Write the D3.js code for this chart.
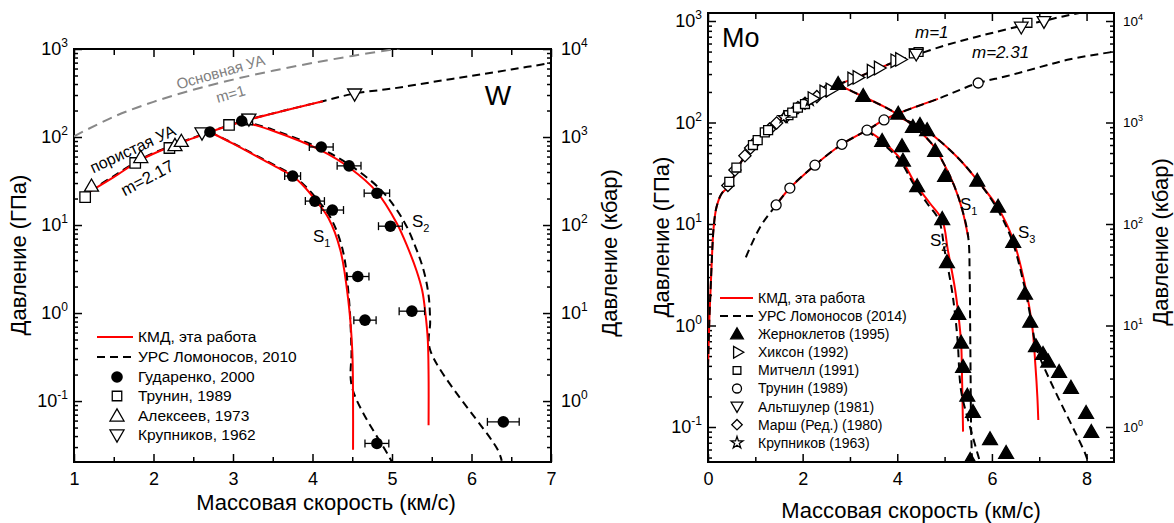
<!DOCTYPE html>
<html>
<head>
<meta charset="utf-8">
<title>W Mo</title>
<script src="https://cdn.jsdelivr.net/npm/d3@7"></script>
<style>
  body { margin: 0; background: #fff; }
  svg { font-family: "Liberation Sans", Arial, sans-serif; }
  .axis .domain { display: none; }
  .axis line { stroke: #000; stroke-width: 1.5px; }
  .frame { fill: none; stroke: #000; stroke-width: 2px; }
  .kmd { fill: none; stroke: #f00; stroke-width: 2px; }
  .urs { fill: none; stroke: #000; stroke-width: 2px; stroke-dasharray: 8,5; }
  .ua { fill: none; stroke: #888; stroke-width: 2px; stroke-dasharray: 10,6; }
</style>
</head>
<body>
<svg id="chart" width="1174" height="523"></svg>
<script>
// ---------- W : [u км/с, P ГПа] ----------
var wUAmain   = [[1.0,102],[1.5,170],[2.0,251],[2.5,344],[3.0,449],[3.5,565],[4.0,694],[4.5,835],[5.0,987],[5.1,1020]];
var wPorKMD   = [[1.19,23.7],[1.5,35],[1.84,55],[2.2,77],[2.5,97],[2.71,114],[3.12,150],[3.6,195],[4.13,255]];
var wPorURS   = [[1.2,24.5],[1.5,36],[1.84,56],[2.2,78],[2.5,98],[2.71,115],[3.12,151],[3.6,195],[4.13,255],[4.53,312],[5.0,355],[5.5,420],[6.0,495],[6.5,585],[7.0,693]];
var wS1KMD    = [[2.71,114],[3.0,84],[3.38,55],[3.6,43],[3.75,36],[3.9,27],[4.03,19.5],[4.2,12],[4.35,5.2],[4.45,1.4],[4.5,0.38],[4.51,0.1],[4.51,0.028]];
var wS1URS    = [[2.71,114],[3.0,85],[3.38,56],[3.6,44],[3.75,37],[3.92,27],[4.05,20],[4.23,12],[4.38,5.2],[4.46,1.4],[4.49,0.38],[4.5,0.14],[4.95,0.0245],[5.0,0.0203]];
var wS2KMD    = [[3.12,150],[3.5,118],[4.1,71],[4.47,44.5],[4.81,23.7],[5.06,10.5],[5.2,5.5],[5.31,3.0],[5.38,1.8],[5.42,1.0],[5.45,0.5],[5.46,0.2],[5.46,0.053]];
var wS2URS    = [[3.12,153],[3.5,121],[4.1,74],[4.5,46],[4.88,24],[5.15,11],[5.3,5.5],[5.4,3.0],[5.46,1.6],[5.48,0.8],[5.48,0.38],[6.33,0.028],[6.38,0.021]];
// [u, P, погрешность u]
var wGudarenko = [[2.71,114,0],[3.11,152,0],[4.11,77,0.15],[4.46,47,0.15],[4.81,23,0.16],[4.98,9.7,0.15],[3.75,36,0.1],[4.03,18.7,0.12],[4.25,14.8,0.14],[4.57,2.6,0.14],[4.66,0.83,0.14],[5.25,1.05,0.16],[6.4,0.058,0.2],[4.81,0.033,0.15]];
var wTrunin    = [[1.14,20.8],[1.77,50.7],[2.2,75],[2.95,137],[3.18,158]];
var wAlekseev  = [[1.22,27],[1.84,57],[2.27,78],[2.35,87]];
var wKrupnikov = [[2.61,114],[3.2,164],[4.53,316]];
var wLegend = ["КМД, эта работа","УРС Ломоносов, 2010","Гударенко, 2000","Трунин, 1989","Алексеев, 1973","Крупников, 1962"];

// ---------- Mo ----------
var moHugKMD = [[0.0,0.39],[0.03,1.2],[0.06,2.6],[0.09,5.5],[0.12,9.3],[0.18,14.7],[0.29,20],[0.46,24],[0.6,34],[0.8,48],[1.0,63],[1.3,88],[1.6,113],[2.0,153],[2.4,195],[2.75,236],[3.15,278],[3.6,340],[4.0,405]];
var moHugURS = [[0.0,0.39],[0.03,1.2],[0.06,2.6],[0.09,5.5],[0.12,9.3],[0.18,14.7],[0.29,20],[0.46,24],[0.6,34],[0.8,48],[1.0,63],[1.3,88],[1.6,113],[2.0,153],[2.4,195],[2.75,236],[3.15,278],[3.6,340],[4.0,405],[4.4,465],[5.0,573],[5.5,665],[6.0,762],[6.66,905],[7.08,1000],[7.5,1110],[7.9,1215]];
var moPorKMD = [[1.44,15.4],[1.73,22.6],[2.26,38],[2.83,61],[3.36,84],[3.72,106],[4.0,122],[4.86,171]];
var moPorURS = [[0.8,4.7],[1.1,9.3],[1.44,15.4],[1.73,22.6],[2.26,38],[2.83,61],[3.36,84],[3.72,106],[4.0,122],[4.86,171],[5.71,245],[6.3,285],[7.0,350],[7.65,420],[8.6,500]];
var moS1KMD = [[2.75,236],[3.28,180],[3.7,145],[4.02,119],[4.4,88],[4.75,60],[5.0,38],[5.2,24],[5.37,14],[5.5,7.4]];
var moS1URS = [[2.75,236],[3.28,180],[3.7,145],[4.02,119],[4.4,88],[4.75,60],[5.0,38],[5.2,24],[5.37,14],[5.5,7.4],[5.53,3],[5.54,1],[5.55,0.3],[5.56,0.1],[5.58,0.045]];
var moS2KMD = [[3.36,84],[3.68,66],[4.1,42],[4.38,25],[4.69,16],[4.95,10.9],[5.07,5.5],[5.22,2.3],[5.29,1.3],[5.35,0.66],[5.37,0.29],[5.39,0.09]];
var moS2URS = [[3.36,84],[3.66,64],[4.06,42],[4.34,25],[4.63,16],[4.88,10.9],[5.0,5.5],[5.15,2.3],[5.22,1.3],[5.28,0.66],[5.32,0.3],[5.37,0.2],[5.75,0.045]];
var moS3KMD = [[3.9,117],[4.3,100],[4.65,81],[5.26,46],[5.69,27],[6.13,14.4],[6.45,7],[6.7,2.5],[6.85,1.0],[6.92,0.4],[6.96,0.2],[6.98,0.117]];
var moS3URS = [[3.9,117],[4.3,100],[4.65,81],[5.26,46],[5.69,27],[6.1,14.4],[6.42,7],[6.68,2.5],[6.85,1.0],[6.95,0.58],[7.97,0.055],[8.02,0.047]];
var moZhern = [[2.75,234],[3.28,178],[4.02,119],[4.33,88],[4.48,92],[4.63,82],[3.68,64],[4.1,57],[4.12,41],[4.8,51],[5.01,29],[4.42,23],[5.69,26],[6.13,14.4],[4.95,10.9],[6.45,6.5],[5.05,4.1],[5.29,1.27],[5.35,0.66],[5.39,0.38],[5.48,0.198],[5.6,0.137],[5.96,0.074],[6.3,0.054],[5.54,0.046],[6.7,2.0],[6.81,1.06],[6.93,0.61],[7.08,0.51],[7.19,0.43],[7.42,0.34],[7.67,0.237],[7.99,0.134],[8.1,0.087]];
var moHixson   = [[2.2,172],[2.45,200],[2.58,209],[3.04,268],[3.15,278],[3.45,320],[3.6,344],[3.95,405],[4.05,418]];
var moMitchell = [[0.45,26],[0.6,36],[0.95,60],[1.05,67],[1.2,80],[1.27,84],[1.7,118],[1.78,125],[1.9,140],[2.05,152],[4.35,480],[4.45,495],[6.75,960]];
var moTrunin   = [[1.44,15.4],[1.73,22.6],[2.26,38],[2.83,61],[3.36,84],[3.72,106],[5.71,245]];
var moAltshuler = [[4.4,482],[6.62,890],[7.1,1010]];
var moMarsh    = [[0.42,24],[0.57,34],[0.78,47],[0.9,56],[1.0,64],[1.3,86],[1.45,99],[1.65,114],[1.9,140],[2.05,155],[2.3,180],[2.5,205]];
var moKrupnikov = [[1.6,112],[2.15,165]];
var moLegend = ["КМД, эта работа","УРС Ломоносов (2014)","Жерноклетов (1995)","Хиксон (1992)","Митчелл (1991)","Трунин (1989)","Альтшулер (1981)","Марш (Ред.) (1980)","Крупников (1963)"];

var svg = d3.select("#chart");

function logTicks(d0, d1) {
  var maj = [], min = [];
  for (var e = Math.floor(Math.log10(d0)); e <= Math.ceil(Math.log10(d1)); e++) {
    for (var k = 1; k <= 9; k++) {
      var v = k * Math.pow(10, e);
      if (v >= d0 * 0.999 && v <= d1 * 1.001) (k == 1 ? maj : min).push(v);
    }
  }
  return {maj: maj, min: min};
}

function supLabels(g, fs, sfs, up) {
  g.selectAll(".tick text").each(function(d) {
    var t = d3.select(this), e = Math.round(Math.log10(d));
    t.text(null).attr("font-size", fs).attr("fill", "#000");
    t.append("tspan").text("10");
    t.append("tspan").attr("font-size", sfs).attr("dy", -up).text(e);
  });
}

function panel(o) {
  var x = d3.scaleLinear().domain(o.xd).range([o.left, o.right]);
  var y = d3.scaleLog().domain(o.yd).range([o.bottom, o.top]);
  var yk = d3.scaleLog().domain([o.yd[0] * 10, o.yd[1] * 10]).range([o.bottom, o.top]);
  var lt = logTicks(o.yd[0], o.yd[1]), ltk = logTicks(o.yd[0] * 10, o.yd[1] * 10);

  var g = svg.append("g");
  // x axes
  g.append("g").attr("class", "axis").attr("transform", "translate(0," + o.bottom + ")")
    .call(d3.axisBottom(x).tickValues(o.xMaj).tickSize(-8).tickSizeOuter(0).tickPadding(10).tickFormat(d3.format("d")))
    .selectAll("text").attr("font-size", 18).attr("fill", "#000");
  g.append("g").attr("class", "axis").attr("transform", "translate(0," + o.bottom + ")")
    .call(d3.axisBottom(x).tickValues(o.xMin).tickSize(-5).tickSizeOuter(0).tickFormat(""));
  g.append("g").attr("class", "axis").attr("transform", "translate(0," + o.top + ")")
    .call(d3.axisTop(x).tickValues(o.xMaj).tickSize(-8).tickSizeOuter(0).tickFormat(""));
  g.append("g").attr("class", "axis").attr("transform", "translate(0," + o.top + ")")
    .call(d3.axisTop(x).tickValues(o.xMin).tickSize(-6).tickSizeOuter(0).tickFormat(""));
  // left log axis (ГПа)
  var la = g.append("g").attr("class", "axis").attr("transform", "translate(" + o.left + ",0)")
    .call(d3.axisLeft(y).tickValues(lt.maj).tickSize(-8).tickSizeOuter(0).tickPadding(6));
  supLabels(la, 18, 12, 8);
  g.append("g").attr("class", "axis").attr("transform", "translate(" + o.left + ",0)")
    .call(d3.axisLeft(y).tickValues(lt.min).tickSize(-4).tickSizeOuter(0).tickFormat(""));
  // right log axis (кбар)
  var ra = g.append("g").attr("class", "axis").attr("transform", "translate(" + o.right + ",0)")
    .call(d3.axisRight(yk).tickValues(ltk.maj).tickSize(-8).tickSizeOuter(0).tickPadding(o.rPad));
  supLabels(ra, o.rFs, o.rSfs, o.rUp);
  g.append("g").attr("class", "axis").attr("transform", "translate(" + o.right + ",0)")
    .call(d3.axisRight(yk).tickValues(ltk.min).tickSize(-4).tickSizeOuter(0).tickFormat(""));

  g.append("rect").attr("class", "frame")
    .attr("x", o.left).attr("y", o.top).attr("width", o.right - o.left).attr("height", o.bottom - o.top);

  var id = "clip" + o.left;
  svg.append("clipPath").attr("id", id).append("rect")
    .attr("x", o.left).attr("y", o.top).attr("width", o.right - o.left).attr("height", o.bottom - o.top);
  var plot = svg.append("g").attr("clip-path", "url(#" + id + ")");
  return {x: x, y: y, plot: plot};
}

function curve(p, data, cls) {
  var line = d3.line().x(function(d) { return p.x(d[0]); }).y(function(d) { return p.y(d[1]); })
    .curve(d3.curveCatmullRom.alpha(0.5));
  p.plot.append("path").datum(data).attr("class", cls).attr("d", line);
}

function symPath(type, size, rot) {
  return {d: d3.symbol().type(type).size(size)(), rot: rot || 0};
}

function marks(sel, data, sp, fill, sx, sy) {
  sel.selectAll(null).data(data).enter().append("path")
    .attr("d", sp.d)
    .attr("transform", function(d) { return "translate(" + sx(d) + "," + sy(d) + ") rotate(" + sp.rot + ")"; })
    .attr("fill", fill).attr("stroke", "#000").attr("stroke-width", 1.3);
}

function points(p, data, sp, fill) {
  marks(p.plot, data, sp, fill, function(d) { return p.x(d[0]); }, function(d) { return p.y(d[1]); });
}

function label(txt, x, y, fs, rot, opts) {
  opts = opts || {};
  var t = svg.append("text").attr("transform", "translate(" + x + "," + y + ") rotate(" + (rot || 0) + ")")
    .attr("font-size", fs).attr("fill", opts.fill || "#000")
    .attr("text-anchor", opts.anchor || "middle").text(txt);
  if (opts.italic) t.attr("font-style", "italic");
  return t;
}

function sLabel(x, y, sub) {
  var t = svg.append("text").attr("x", x).attr("y", y).attr("font-size", 17);
  t.append("tspan").text("S");
  t.append("tspan").attr("font-size", 11).attr("dy", 5).text(sub);
}

// ================= W =================
var pw = panel({left: 74, right: 551, top: 49, bottom: 462, xd: [1, 7], yd: [0.0203, 1000],
  xMaj: [1, 2, 3, 4, 5, 6, 7], xMin: [1.5, 2.5, 3.5, 4.5, 5.5, 6.5], rPad: 10, rFs: 18, rSfs: 12, rUp: 8});

curve(pw, wUAmain, "ua");
curve(pw, wPorURS, "urs");
curve(pw, wS1URS, "urs");
curve(pw, wS2URS, "urs");
curve(pw, wPorKMD, "kmd");
curve(pw, wS1KMD, "kmd");
curve(pw, wS2KMD, "kmd");

var triUp = symPath(d3.symbolTriangle, 85, 0), triDn = symPath(d3.symbolTriangle, 85, 180);
var sq = symPath(d3.symbolSquare, 110, 0);
points(pw, wTrunin, sq, "#fff");
points(pw, wAlekseev, triUp, "#fff");
points(pw, wKrupnikov, triDn, "#fff");

var eb = pw.plot.append("g").attr("stroke", "#000").attr("stroke-width", 1.3);
wGudarenko.filter(function(d) { return d[2] > 0; }).forEach(function(d) {
  var x0 = pw.x(d[0] - d[2]), x1 = pw.x(d[0] + d[2]), yy = pw.y(d[1]);
  eb.append("line").attr("x1", x0).attr("x2", x1).attr("y1", yy).attr("y2", yy);
  eb.append("line").attr("x1", x0).attr("x2", x0).attr("y1", yy - 4).attr("y2", yy + 4);
  eb.append("line").attr("x1", x1).attr("x2", x1).attr("y1", yy - 4).attr("y2", yy + 4);
});
pw.plot.selectAll(null).data(wGudarenko).enter().append("circle")
  .attr("cx", function(d) { return pw.x(d[0]); }).attr("cy", function(d) { return pw.y(d[1]); })
  .attr("r", 5.8).attr("fill", "#000");

// W labels
label("Основная УА", 222, 77, 15, -16, {fill: "#808080"});
label("m=1", 232, 99, 15, -16, {fill: "#808080"});
label("пористая УА", 135, 154, 16, -25);
label("m=2.17", 150, 183, 17, -28);
label("W", 498, 105, 28);
sLabel(313, 242, "1");
sLabel(412, 227, "2");

// W legend
var lw = svg.append("g");
var lwy = [337, 357, 377, 396, 416, 435];
lw.append("line").attr("x1", 97).attr("x2", 133).attr("y1", lwy[0]).attr("y2", lwy[0]).attr("stroke", "#f00").attr("stroke-width", 2);
lw.append("line").attr("x1", 97).attr("x2", 133).attr("y1", lwy[1]).attr("y2", lwy[1]).attr("class", "urs");
lw.append("circle").attr("cx", 117).attr("cy", lwy[2]).attr("r", 5.8).attr("fill", "#000");
marks(lw, [lwy[3]], symPath(d3.symbolSquare, 90, 0), "#fff", function() { return 117; }, function(d) { return d; });
marks(lw, [lwy[4] + 1], triUp, "#fff", function() { return 117; }, function(d) { return d; });
marks(lw, [lwy[5] - 1], triDn, "#fff", function() { return 117; }, function(d) { return d; });
lw.selectAll(null).data(wLegend).enter().append("text")
  .attr("x", 138).attr("y", function(d, i) { return lwy[i]; }).attr("dy", "0.35em")
  .attr("font-size", 15.5).text(function(d) { return d; });

// W axis titles
label("Давление (ГПа)", 26, 255, 22, -90);
label("Давление (кбар)", 617, 253, 22, -90);
label("Массовая скорость (км/с)", 326, 510, 22, 0);

// ================= Mo =================
var pm = panel({left: 708, right: 1114, top: 13, bottom: 462, xd: [0, 8.58], yd: [0.0452, 1199],
  xMaj: [0, 2, 4, 6, 8], xMin: [1, 3, 5, 7], rPad: 9, rFs: 13.5, rSfs: 9, rUp: 6});

curve(pm, moHugKMD, "kmd");
curve(pm, moPorKMD, "kmd");
curve(pm, moS1KMD, "kmd");
curve(pm, moS2KMD, "kmd");
curve(pm, moS3KMD, "kmd");
curve(pm, moHugURS, "urs");
curve(pm, moPorURS, "urs");
curve(pm, moS1URS, "urs");
curve(pm, moS2URS, "urs");
curve(pm, moS3URS, "urs");

var mTriUp = symPath(d3.symbolTriangle, 95, 0);
var oTriR = symPath(d3.symbolTriangle, 80, 90), oTriD = symPath(d3.symbolTriangle, 80, 180);
var oSq = symPath(d3.symbolSquare, 80, 0), oDia = symPath(d3.symbolSquare, 75, 45);
var oStar = symPath(d3.symbolStar, 40, 0);
points(pm, moMarsh, oDia, "#fff");
points(pm, moMitchell, oSq, "#fff");
points(pm, moKrupnikov, oStar, "#fff");
points(pm, moHixson, oTriR, "#fff");
points(pm, moAltshuler, oTriD, "#fff");
pm.plot.selectAll(null).data(moTrunin).enter().append("circle")
  .attr("cx", function(d) { return pm.x(d[0]); }).attr("cy", function(d) { return pm.y(d[1]); })
  .attr("r", 5).attr("fill", "#fff").attr("stroke", "#000").attr("stroke-width", 1.3);
points(pm, moZhern, mTriUp, "#000");

// Mo labels
label("Mo", 722, 47, 27, 0, {anchor: "start"});
label("m=1", 915, 38, 17, 0, {anchor: "start", italic: true});
label("m=2.31", 972, 58, 17, 0, {anchor: "start", italic: true});
sLabel(960, 210, "1");
sLabel(930, 246, "2");
sLabel(1018, 238, "3");

// Mo legend
var lm = svg.append("g");
var lmy = moLegend.map(function(d, i) { return 298 + i * 18.1; });
lm.append("line").attr("x1", 720).attr("x2", 753).attr("y1", lmy[0]).attr("y2", lmy[0]).attr("stroke", "#f00").attr("stroke-width", 2);
lm.append("line").attr("x1", 720).attr("x2", 753).attr("y1", lmy[1]).attr("y2", lmy[1]).attr("class", "urs");
var fx = function() { return 737; }, fy = function(d) { return d; };
marks(lm, [lmy[2] + 1], symPath(d3.symbolTriangle, 70, 0), "#000", fx, fy);
marks(lm, [lmy[3]], symPath(d3.symbolTriangle, 60, 90), "#fff", fx, fy);
marks(lm, [lmy[4]], symPath(d3.symbolSquare, 60, 0), "#fff", fx, fy);
lm.append("circle").attr("cx", 737).attr("cy", lmy[5]).attr("r", 4.5).attr("fill", "#fff").attr("stroke", "#000").attr("stroke-width", 1.3);
marks(lm, [lmy[6] - 1], symPath(d3.symbolTriangle, 60, 180), "#fff", fx, fy);
marks(lm, [lmy[7]], symPath(d3.symbolSquare, 55, 45), "#fff", fx, fy);
marks(lm, [lmy[8]], symPath(d3.symbolStar, 45, 0), "#fff", fx, fy);
lm.selectAll(null).data(moLegend).enter().append("text")
  .attr("x", 758).attr("y", function(d, i) { return lmy[i]; }).attr("dy", "0.35em")
  .attr("font-size", 14).text(function(d) { return d; });

label("Давление (ГПа)", 669, 237, 22, -90);
label("Давление (кбар)", 1168, 242, 22, -90);
label("Массовая скорость (км/с)", 911, 518, 22, 0);
</script>
</body>
</html>
